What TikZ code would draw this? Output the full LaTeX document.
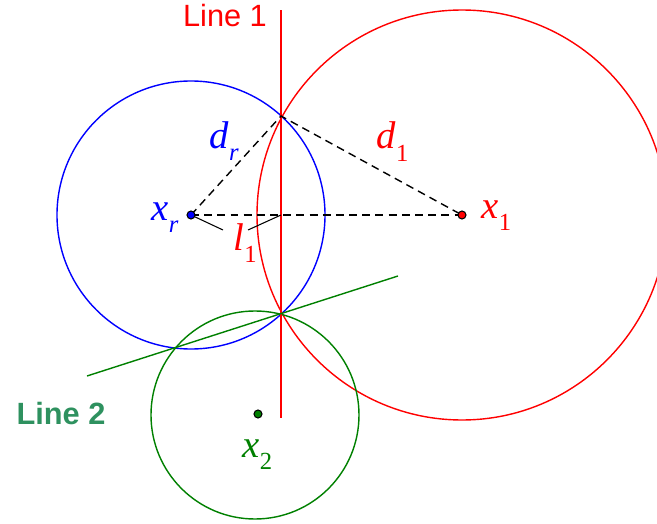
\documentclass[tikz,border=0pt]{standalone}
\usepackage{fontspec}
\setmainfont{Liberation Serif}
\setsansfont{Liberation Sans}
\definecolor{seagrn}{RGB}{46,145,95}
\definecolor{dkgreen}{RGB}{0,128,0}
\newcommand{\lab}[2]{{\fontsize{22}{22}\selectfont\itshape #1}\raisebox{-7pt}{\fontsize{14}{14}\selectfont #2}}

\begin{document}
\begin{tikzpicture}[x=0.02cm,y=-0.02cm,line width=0.8pt,>=latex]
  \useasboundingbox (0,0) rectangle (657,524);
  \clip (0,0) rectangle (657,524);
  \coordinate (R) at (191,215);
  \coordinate (S) at (462,215);
  \coordinate (T) at (258,414);
  \coordinate (C) at (255,415);
  \coordinate (P) at (281,116);
  \coordinate (Q) at (281,313);
  \coordinate (M) at (281,215);
  \draw[blue] (R) circle(134);
  \draw[red] (S) circle(205);
  \draw[dkgreen] (C) circle(104);
  \draw[red] (281,10)--(281,418);
  \draw[dkgreen] (87,376)--(398,276);
  \draw[dash pattern=on 4.5pt off 3pt] (R)--(P)--(S);
  \draw[dash pattern=on 4.5pt off 3pt] (R)--(S);
  \draw[line width=0.6pt] (R)--(223,230);
  \draw[line width=0.6pt] (248,230)--(M);
  \filldraw[fill=blue,line width=0.6pt] (R) circle(4);
  \filldraw[fill=red,line width=0.6pt] (S) circle(4);
  \filldraw[fill=dkgreen,line width=0.6pt] (T) circle(4);
  \node[red,font=\sffamily\fontsize{17.5}{17.5}\selectfont] (lineone) at (225,16){Line 1};
  \node[seagrn,font=\sffamily\bfseries\fontsize{17.5}{17.5}\selectfont] (linetwo) at (61,414){Line 2};
  \node[blue,anchor=base west,inner sep=0] (xr) at (151,220){\lab{x}{\itshape r}};
  \node[red,anchor=base west,inner sep=0] (xone) at (481,218){\lab{x}{1}};
  \node[dkgreen,anchor=base west,inner sep=0] (xtwo) at (242,457){\lab{x}{2}};
  \node[blue,anchor=base west,inner sep=0] (dr) at (209,148){\lab{d}{\itshape r}};
  \node[red,anchor=base west,inner sep=0] (done) at (376,149){\lab{d}{1}};
  \node[red,anchor=base west,inner sep=0] (lone) at (233,250){\lab{l}{1}};
\end{tikzpicture}
\end{document}
